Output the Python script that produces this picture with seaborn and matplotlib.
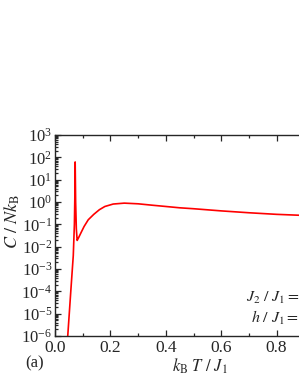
import numpy as np
import pandas as pd
import seaborn as sns
import matplotlib
matplotlib.use("Agg")
import matplotlib.pyplot as plt
from matplotlib.ticker import LogLocator, MultipleLocator, NullFormatter, FormatStrFormatter

# temperature k_B T / J_1 and specific heat C / N k_B
temperature = [0.044, 0.046, 0.0515, 0.057, 0.0626, 0.066, 0.070, 0.072, 0.0728,
               0.0745, 0.077, 0.080, 0.085, 0.095, 0.105, 0.12, 0.14, 0.16,
               0.18, 0.21, 0.25, 0.30, 0.35, 0.40, 0.45, 0.50, 0.60, 0.70,
               0.80, 0.90, 1.00]
heat = [6e-7, 1e-6, 1e-5, 1e-4, 1e-3, 0.004, 0.1, 3.2, 62,
        1.0, 0.063, 0.019, 0.025, 0.045, 0.08, 0.16, 0.28, 0.45,
        0.63, 0.81, 0.89, 0.83, 0.72, 0.63, 0.55, 0.50, 0.40, 0.33,
        0.28, 0.25, 0.22]

df = pd.DataFrame({"T": temperature, "C": heat})

sns.set_style("ticks")
plt.rcParams["font.family"] = ["Liberation Serif", "DejaVu Serif"]
plt.rcParams["mathtext.fontset"] = "stix"

fig = plt.figure(figsize=(2.99, 3.87), dpi=100)
ax = fig.add_axes([55 / 299, 1 - 336 / 387, 277 / 299, 201 / 387])

sns.lineplot(data=df, x="T", y="C", color="red", linewidth=1.2, ax=ax, sort=False)

ax.set_yscale("log")
ax.set_xlim(0, 1.0)
ax.set_ylim(1e-6, 1e3)
ax.xaxis.set_major_locator(MultipleLocator(0.2))
ax.xaxis.set_minor_locator(MultipleLocator(0.1))
ax.xaxis.set_major_formatter(FormatStrFormatter("%.1f"))
ax.yaxis.set_major_locator(LogLocator(base=10, numticks=20))
ax.yaxis.set_minor_locator(LogLocator(base=10, subs=np.arange(2, 10), numticks=20))
ax.yaxis.set_minor_formatter(NullFormatter())

ax.tick_params(which="both", direction="in", top=True, right=True, width=0.9)
ax.tick_params(axis="y", pad=2, labelsize=12)
ax.tick_params(axis="x", pad=3, labelsize=12.5)
ax.tick_params(which="major", length=4)
ax.tick_params(which="minor", length=2.5)
for s in ax.spines.values():
    s.set_linewidth(1.0)

ax.set_xlabel(r"$k_{\rm B}\ T\ /\ J_1$", fontsize=12)
ax.set_ylabel(r"$C\ /\ Nk_{\rm B}$", fontsize=13)
ax.xaxis.set_label_coords(0.523, -0.10)
ax.yaxis.set_label_coords(-0.119, 0.572)

fig.text(246 / 299, 1 - 298 / 387, r"$J_2\ /\ J_1 =$", fontsize=11.5, va="center", ha="left")
fig.text(251 / 299, 1 - 318 / 387, r"$h\ /\ J_1 =$", fontsize=11.5, va="center", ha="left")
fig.text(25 / 299, 1 - 363 / 387, "(a)", fontsize=12, va="center", ha="left")

fig.savefig("out.png", dpi=100)
